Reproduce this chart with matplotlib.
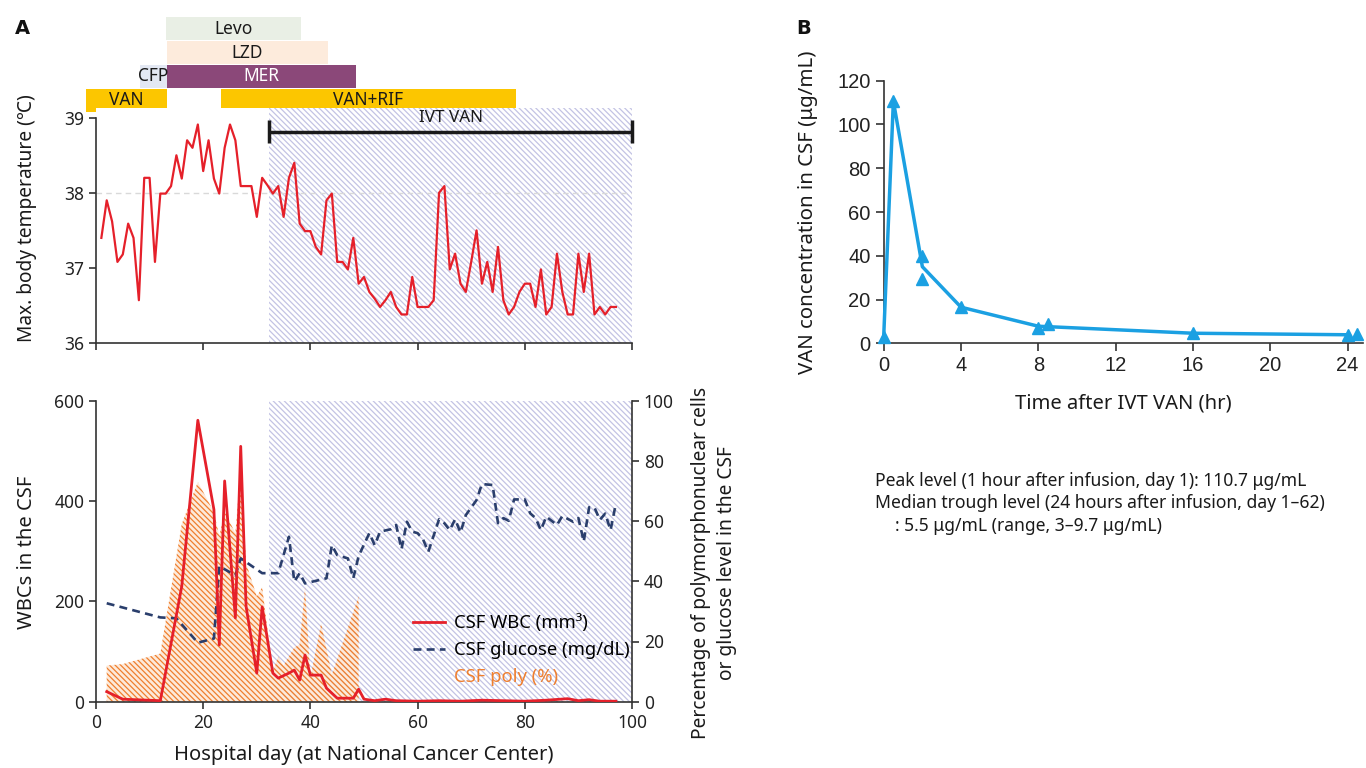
import matplotlib
matplotlib.use('Agg')
import matplotlib.pyplot as plt
from matplotlib.lines import Line2D

plt.rcParams['font.family'] = ['Noto Sans', 'DejaVu Sans']
plt.rcParams['hatch.linewidth'] = 0.9

W, H = 1366, 768

# ---------------- data ----------------
temp_days = list(range(1, 98))
temp_vals = [37.40, 37.90, 37.62, 37.08, 37.18, 37.59, 37.40, 36.57, 38.20, 38.20,
             37.08, 37.99, 37.99, 38.09, 38.50, 38.19, 38.70, 38.60, 38.91, 38.29,
             38.70, 38.19, 37.99, 38.60, 38.91, 38.70, 38.09, 38.09, 38.09, 37.68,
             38.20, 38.10, 37.99, 38.09, 37.68, 38.20, 38.40, 37.59, 37.49, 37.49,
             37.28, 37.18, 37.90, 37.99, 37.08, 37.08, 36.98, 37.40, 36.79, 36.88,
             36.68, 36.59, 36.48, 36.57, 36.68, 36.48, 36.38, 36.38, 36.88, 36.48,
             36.48, 36.48, 36.57, 38.00, 38.09, 36.98, 37.19, 36.79, 36.68, 37.08,
             37.50, 36.79, 37.08, 36.68, 37.28, 36.57, 36.38, 36.48, 36.68, 36.79,
             36.79, 36.48, 36.98, 36.38, 36.48, 37.19, 36.68, 36.38, 36.38, 37.19,
             36.68, 37.19, 36.38, 36.48, 36.38, 36.48, 36.48]

wbc_days = [2, 5, 12, 16, 19, 22, 23, 24, 26, 27, 28, 30, 31, 33, 34, 36, 37, 38, 39,
            40, 42, 43, 45, 48, 49, 50, 52, 54, 56, 60, 64, 68, 72, 76, 80, 84, 88,
            90, 92, 94, 97]
wbc_vals = [20, 5, 2, 230, 561, 383, 113, 440, 167, 509, 190, 57, 189, 57, 47, 57, 63,
            43, 93, 53, 53, 27, 7, 7, 25, 5, 2, 5, 2, 1, 2, 1, 3, 2, 1, 3, 6, 2, 4, 1, 1]

glu_days = [2, 12, 15, 19, 22, 23, 26, 27, 31, 34, 36, 37, 38, 39, 43, 44, 45, 47, 48,
            49, 51, 52, 53, 55, 56, 57, 58, 59, 60, 61, 62, 64, 65, 66, 67, 68, 69, 71,
            72, 74, 75, 76, 77, 78, 80, 81, 82, 83, 84, 86, 87, 89, 90, 91, 92, 93, 94,
            95, 96, 97]
glu_vals = [32.7, 28.0, 27.7, 19.6, 21.0, 45.0, 42.0, 47.6, 42.7, 42.7, 54.8, 39.9,
            42.7, 39.3, 41.0, 52.0, 48.7, 47.6, 41.0, 48.4, 56.0, 52.0, 56.5, 57.3,
            58.7, 50.7, 59.8, 56.5, 56.0, 54.0, 49.8, 60.6, 59.3, 57.0, 60.6, 56.2,
            62.0, 67.0, 72.3, 72.0, 59.3, 61.0, 60.1, 67.2, 67.2, 62.6, 61.0, 57.0,
            61.5, 58.7, 61.7, 59.8, 61.0, 53.2, 64.6, 64.5, 60.4, 62.5, 57.0, 65.9]

poly_days = [2, 5, 12, 16, 19, 22, 23, 24, 26, 27, 28, 30, 31, 33, 34, 35, 37, 38, 39,
             40, 42, 44, 49]
poly_vals = [12, 12.5, 16, 59, 73, 63, 55, 63, 56, 77, 46, 35, 38, 10, 15, 12, 18, 19,
             38, 8, 26, 9, 35]

drug_names = ['VAN', 'VAN+RIF', 'CFP', 'MER', 'LZD', 'Levo']
drug_start = [-1.8, 23.3, 8.2, 13.25, 13.25, 13.1]
drug_end = [13.25, 78.3, 13.25, 48.45, 43.2, 38.2]
drug_row = [0, 0, 1, 1, 2, 3]
drug_colors = ['#FCC600', '#FCC600', '#E3E8F3', '#8B4879', '#FDEBDC', '#E9EFE5']
drug_text_colors = ['#1a1a1a', '#1a1a1a', '#1a1a1a', 'white', '#1a1a1a', '#1a1a1a']

ivt_start, ivt_end = 32.3, 100

pk_time = [0, 0.5, 2, 2, 4, 8, 8.5, 16, 24, 24.5]
pk_conc = [3, 110.7, 40, 29.5, 16.5, 7.2, 8.7, 4.7, 3.8, 4.2]
pk_mean_time = [0, 0.5, 2, 4, 8, 16, 24]
pk_mean_conc = [3, 110.7, 35, 16.5, 7.8, 4.6, 3.9]

# ---------------- layout helpers ----------------
def rect(l, t, r, b):
    return [l / W, 1 - b / H, (r - l) / W, (b - t) / H]

def ftext(x, y, s, **kw):
    fig.text(x / W, 1 - y / H, s, **kw)

SP = '#333333'
TXT = '#1a1a1a'
RED = '#E5202A'
NAVY = '#2A3E6C'
HATCH_C = '#C3C3E4'
ORANGE = '#EF7F2E'
HP = '\\' * 6

fig = plt.figure(figsize=(W / 100, H / 100), dpi=100)

def style(ax, spines):
    for s in ['top', 'right', 'left', 'bottom']:
        ax.spines[s].set_visible(s in spines)
        ax.spines[s].set_color(SP)
        ax.spines[s].set_linewidth(1.2)
    ax.tick_params(direction='out', length=5, width=1.2, color=SP,
                   labelcolor='#222222', labelsize=12.5)

# ---------------- drug bars ----------------
axd = fig.add_axes(rect(96, 17, 632, 112))
axd.set_xlim(0, 100)
axd.set_ylim(0, 4)
axd.axis('off')
for n, s, e, r, c, tc in zip(drug_names, drug_start, drug_end, drug_row,
                             drug_colors, drug_text_colors):
    axd.barh(r + 0.5, e - s, left=s, height=0.96, color=c, clip_on=False)
    axd.text((s + e) / 2, r + 0.5, n, ha='center', va='center', fontsize=12.5,
             color=tc, clip_on=False)

# ---------------- temperature panel ----------------
axt = fig.add_axes(rect(96, 108, 632, 343))
axt.set_xlim(0, 100)
axt.set_ylim(36, 39.13)
style(axt, ['left', 'bottom'])
axt.spines['left'].set_bounds(36, 39)
axt.axvspan(ivt_start, ivt_end, facecolor='white', edgecolor=HATCH_C,
            hatch=HP, linewidth=0, zorder=0)
axt.axhline(38, color='#D9D9D9', lw=1, ls=(0, (4, 3)), zorder=1)
axt.plot(temp_days, temp_vals, color=RED, lw=1.6, zorder=3)
axt.set_yticks([36, 37, 38, 39])
axt.set_xticks([0, 20, 40, 60, 80, 100])
axt.set_xticklabels([])
# IVT VAN bracket
axt.plot([ivt_start, ivt_end], [38.81, 38.81], color=TXT, lw=2.5,
         solid_capstyle='butt', clip_on=False, zorder=4)
for xv in (ivt_start, ivt_end):
    axt.plot([xv, xv], [38.67, 38.97], color=TXT, lw=2.5,
             solid_capstyle='butt', clip_on=False, zorder=4)
axt.text((ivt_start + ivt_end) / 2, 39.0, 'IVT VAN', ha='center', va='center',
         fontsize=12.3, color=TXT, zorder=5)

# ---------------- CSF panel ----------------
axb = fig.add_axes(rect(96, 400.7, 632, 701.7))
axr = axb.twinx()
axb.set_zorder(axr.get_zorder() + 1)
axb.patch.set_visible(False)
for a in (axb, axr):
    a.set_xlim(0, 100)
style(axb, ['left', 'bottom'])
style(axr, ['right'])
axb.set_ylim(0, 600)
axr.set_ylim(0, 100)
axb.set_yticks([0, 200, 400, 600])
axr.set_yticks([0, 20, 40, 60, 80, 100])
axb.set_xticks([0, 20, 40, 60, 80, 100])

axr.axvspan(ivt_start, ivt_end, facecolor='white', edgecolor=HATCH_C,
            hatch=HP, linewidth=0, zorder=0)
axr.fill_between(poly_days + [poly_days[-1]], poly_vals + [0], 0,
                 facecolor=(0.99, 0.85, 0.74, 0.55), edgecolor=ORANGE, hatch=HP,
                 linewidth=0, zorder=1)
axr.plot(glu_days, glu_vals, color=NAVY, lw=1.9, ls=(0, (3, 2)), zorder=3)
axb.plot(wbc_days, wbc_vals, color=RED, lw=2, zorder=4)

handles = [Line2D([], [], color=RED, lw=2),
           Line2D([], [], color=NAVY, lw=1.9, ls=(0, (3, 2))),
           Line2D([], [], color='none', lw=0)]
leg = axb.legend(handles, ['CSF WBC (mm³)', 'CSF glucose (mg/dL)', 'CSF poly (%)'],
                 loc='upper left', bbox_to_anchor=(413 / W, 1 - 614 / H),
                 bbox_transform=fig.transFigure, frameon=False, fontsize=13.3,
                 borderpad=0, borderaxespad=0, handlelength=1.75,
                 handletextpad=0.45, labelspacing=0.5)
leg.get_texts()[2].set_color(ORANGE)

# axis labels panel A
ftext(27, 218, 'Max. body temperature (℃)', rotation=90, ha='center', va='center',
      fontsize=13.8, color=TXT)
ftext(27, 552, 'WBCs in the CSF', rotation=90, ha='center', va='center',
      fontsize=14.5, color=TXT)
ftext(714, 563, 'Percentage of polymorphonuclear cells\nor glucose level in the CSF',
      rotation=90, ha='center', va='center', fontsize=13.8, color=TXT,
      multialignment='center', linespacing=1.4)
ftext(364, 755, 'Hospital day (at National Cancer Center)', ha='center',
      va='center', fontsize=14.5, color=TXT)
ftext(22, 28, 'A', ha='center', va='center', fontsize=14, fontweight='bold',
      color='#111111', family=['DejaVu Sans'])
ftext(804, 28, 'B', ha='center', va='center', fontsize=14, fontweight='bold',
      color='#111111', family=['DejaVu Sans'])

# ---------------- panel B ----------------
BLUE = '#1BA0E2'
axp = fig.add_axes(rect(883.7, 80.7, 1363, 343.3))
style(axp, ['left', 'bottom'])
axp.set_xlim(0, 24.8)
axp.set_ylim(0, 120)
axp.set_xticks([0, 4, 8, 12, 16, 20, 24])
axp.set_yticks([0, 20, 40, 60, 80, 100, 120])
axp.tick_params(labelsize=14.5, length=6)
for lab in axp.get_xticklabels() + axp.get_yticklabels():
    lab.set_fontfamily(['Liberation Sans', 'DejaVu Sans'])
axp.plot(pk_mean_time, pk_mean_conc, color=BLUE, lw=2.5, clip_on=False, zorder=3)
axp.plot(pk_time, pk_conc, ls='none', marker='^', ms=8, color=BLUE,
         clip_on=False, zorder=4)
axp.set_xlabel('Time after IVT VAN (hr)', fontsize=14.5, color=TXT, labelpad=13)
axp.set_ylabel('VAN concentration in CSF (μg/mL)', fontsize=14.7, color=TXT,
               labelpad=14)

ftext(875, 481, 'Peak level (1 hour after infusion, day 1): 110.7 μg/mL',
      ha='left', va='center', fontsize=12.6, color=TXT)
ftext(875, 503, 'Median trough level (24 hours after infusion, day 1–62)',
      ha='left', va='center', fontsize=12.6, color=TXT)
ftext(895, 526, ': 5.5 μg/mL (range, 3–9.7 μg/mL)',
      ha='left', va='center', fontsize=12.6, color=TXT)

fig.savefig('out.png', dpi=100)
